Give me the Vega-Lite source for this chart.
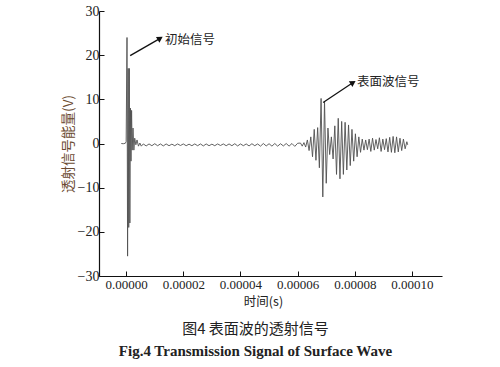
{
  "$schema": "https://vega.github.io/schema/vega-lite/v6.json",
  "autosize": {"type": "none"},
  "width": 343,
  "height": 265,
  "padding": {"left": 99, "top": 11, "right": 58, "bottom": 91},
  "background": "white",
  "config": {"view": {"stroke": null}},
  "title": {
    "text": "图4 表面波的透射信号",
    "subtitle": "Fig.4 Transmission Signal of Surface Wave",
    "orient": "bottom",
    "anchor": "middle",
    "frame": "group",
    "offset": 14,
    "dx": -15,
    "font": "Noto Sans CJK SC",
    "fontSize": 15,
    "fontWeight": "normal",
    "color": "#222222",
    "subtitleFont": "Liberation Serif",
    "subtitleFontSize": 15,
    "subtitleFontWeight": "bold",
    "subtitleColor": "#222222",
    "subtitlePadding": 7
  },
  "datasets": {
    "signal": [
      {"t": -1.7e-6, "v": 0},
      {"t": -1.0e-6, "v": -0.05},
      {"t": -3e-7, "v": 0.05},
      {"t": 0, "v": 0.4},
      {"t": 3e-7, "v": 24},
      {"t": 5e-7, "v": -25.5},
      {"t": 7e-7, "v": 17},
      {"t": 9e-7, "v": -19},
      {"t": 1.1e-6, "v": 17},
      {"t": 1.3e-6, "v": -18},
      {"t": 1.5e-6, "v": 8},
      {"t": 1.7e-6, "v": -4},
      {"t": 1.9e-6, "v": 7.5},
      {"t": 2.1e-6, "v": -1.5},
      {"t": 2.4e-6, "v": 3.5},
      {"t": 2.7e-6, "v": -1.5},
      {"t": 3.0e-6, "v": 1.2},
      {"t": 3.4e-6, "v": -0.3},
      {"t": 3.8e-6, "v": 0.8},
      {"t": 4.3e-6, "v": -0.6},
      {"t": 4.8e-6, "v": 0.1},
      {"t": 5.3e-6, "v": -0.6},
      {"t": 6e-6, "v": -0.1},
      {"t": 7e-6, "v": -0.55},
      {"t": 8e-6, "v": -0.1},
      {"t": 9e-6, "v": -0.5},
      {"t": 1.0e-5, "v": -0.05},
      {"t": 1.1e-5, "v": -0.5},
      {"t": 1.2e-5, "v": -0.1},
      {"t": 1.3e-5, "v": -0.55},
      {"t": 1.4e-5, "v": -0.1},
      {"t": 1.5e-5, "v": -0.5},
      {"t": 1.6e-5, "v": -0.15},
      {"t": 1.7e-5, "v": -0.5},
      {"t": 1.8e-5, "v": -0.1},
      {"t": 1.9e-5, "v": -0.45},
      {"t": 2.0e-5, "v": -0.1},
      {"t": 2.1e-5, "v": -0.5},
      {"t": 2.2e-5, "v": -0.15},
      {"t": 2.3e-5, "v": -0.5},
      {"t": 2.4e-5, "v": -0.1},
      {"t": 2.5e-5, "v": -0.5},
      {"t": 2.6e-5, "v": -0.1},
      {"t": 2.7e-5, "v": -0.55},
      {"t": 2.8e-5, "v": -0.1},
      {"t": 2.9e-5, "v": -0.5},
      {"t": 3.0e-5, "v": -0.15},
      {"t": 3.1e-5, "v": -0.5},
      {"t": 3.2e-5, "v": -0.1},
      {"t": 3.3e-5, "v": -0.45},
      {"t": 3.4e-5, "v": -0.1},
      {"t": 3.5e-5, "v": -0.5},
      {"t": 3.6e-5, "v": -0.1},
      {"t": 3.7e-5, "v": -0.5},
      {"t": 3.8e-5, "v": -0.05},
      {"t": 3.9e-5, "v": -0.55},
      {"t": 4.0e-5, "v": -0.1},
      {"t": 4.1e-5, "v": -0.5},
      {"t": 4.2e-5, "v": -0.1},
      {"t": 4.3e-5, "v": -0.55},
      {"t": 4.4e-5, "v": -0.05},
      {"t": 4.5e-5, "v": -0.5},
      {"t": 4.6e-5, "v": -0.1},
      {"t": 4.7e-5, "v": -0.6},
      {"t": 4.8e-5, "v": 0.0},
      {"t": 4.9e-5, "v": -0.55},
      {"t": 5.0e-5, "v": -0.05},
      {"t": 5.1e-5, "v": -0.6},
      {"t": 5.2e-5, "v": 0.0},
      {"t": 5.3e-5, "v": -0.6},
      {"t": 5.4e-5, "v": -0.05},
      {"t": 5.5e-5, "v": -0.55},
      {"t": 5.6e-5, "v": 0.0},
      {"t": 5.7e-5, "v": -0.6},
      {"t": 5.8e-5, "v": 0.0},
      {"t": 5.9e-5, "v": -0.65},
      {"t": 6.0e-5, "v": 0.05},
      {"t": 6.1e-5, "v": 0.1},
      {"t": 6.16e-5, "v": -0.6},
      {"t": 6.22e-5, "v": 0.2},
      {"t": 6.28e-5, "v": -0.8},
      {"t": 6.34e-5, "v": 0.8},
      {"t": 6.4e-5, "v": -1.6},
      {"t": 6.46e-5, "v": 1.5},
      {"t": 6.52e-5, "v": -3.0},
      {"t": 6.58e-5, "v": 3.2},
      {"t": 6.64e-5, "v": -3.8},
      {"t": 6.7e-5, "v": 3.6},
      {"t": 6.76e-5, "v": -5.5},
      {"t": 6.82e-5, "v": 10.2},
      {"t": 6.88e-5, "v": -12.1},
      {"t": 6.94e-5, "v": 9.6},
      {"t": 7.0e-5, "v": -9.0},
      {"t": 7.06e-5, "v": 3.5},
      {"t": 7.12e-5, "v": -2.5},
      {"t": 7.18e-5, "v": 1.5},
      {"t": 7.24e-5, "v": -3.5},
      {"t": 7.3e-5, "v": 4.0},
      {"t": 7.36e-5, "v": -7.0},
      {"t": 7.42e-5, "v": 5.7},
      {"t": 7.48e-5, "v": -8.0},
      {"t": 7.54e-5, "v": 5.0},
      {"t": 7.6e-5, "v": -7.0},
      {"t": 7.66e-5, "v": 4.8},
      {"t": 7.72e-5, "v": -6.0},
      {"t": 7.78e-5, "v": 4.2},
      {"t": 7.84e-5, "v": -5.0},
      {"t": 7.9e-5, "v": 3.2},
      {"t": 7.96e-5, "v": -4.0},
      {"t": 8.02e-5, "v": 2.2},
      {"t": 8.08e-5, "v": -3.0},
      {"t": 8.14e-5, "v": 1.5},
      {"t": 8.2e-5, "v": -2.0},
      {"t": 8.26e-5, "v": 1.0},
      {"t": 8.32e-5, "v": -1.5},
      {"t": 8.38e-5, "v": 0.8},
      {"t": 8.44e-5, "v": -1.4},
      {"t": 8.5e-5, "v": 1.0},
      {"t": 8.56e-5, "v": -1.8},
      {"t": 8.62e-5, "v": 1.2},
      {"t": 8.68e-5, "v": -1.5},
      {"t": 8.74e-5, "v": 0.9},
      {"t": 8.8e-5, "v": -1.2},
      {"t": 8.86e-5, "v": 1.3},
      {"t": 8.92e-5, "v": -1.8},
      {"t": 8.98e-5, "v": 1.0},
      {"t": 9.04e-5, "v": -1.4},
      {"t": 9.1e-5, "v": 1.1},
      {"t": 9.16e-5, "v": -1.9},
      {"t": 9.22e-5, "v": 1.4},
      {"t": 9.28e-5, "v": -2.0},
      {"t": 9.34e-5, "v": 1.6},
      {"t": 9.4e-5, "v": -2.1},
      {"t": 9.46e-5, "v": 1.5},
      {"t": 9.52e-5, "v": -1.9},
      {"t": 9.58e-5, "v": 1.2},
      {"t": 9.64e-5, "v": -1.6},
      {"t": 9.7e-5, "v": 1.0},
      {"t": 9.76e-5, "v": -1.2},
      {"t": 9.82e-5, "v": 0.4},
      {"t": 9.85e-5, "v": -0.3}
    ],
    "arrows": [
      {"x1": 1.4e-6, "y1": 19.9, "x2": 1.19e-5, "y2": 23.8},
      {"x1": 6.89e-5, "y1": 9.3, "x2": 7.94e-5, "y2": 13.8}
    ],
    "notes": [
      {"t": 1.36e-5, "v": 23.5, "text": "初始信号"},
      {"t": 8.08e-5, "v": 14.0, "text": "表面波信号"}
    ]
  },
  "layer": [
    {
      "data": {"name": "signal"},
      "mark": {"type": "line", "color": "#505050", "strokeWidth": 0.9, "clip": true},
      "encoding": {
        "x": {
          "field": "t", "type": "quantitative",
          "scale": {"domain": [-0.0000095, 0.0001105], "nice": false, "zero": false},
          "axis": {
            "title": "时间(s)",
            "values": [0, 0.00001, 0.00002, 0.00003, 0.00004, 0.00005, 0.00006, 0.00007, 0.00008, 0.00009, 0.0001],
            "format": ".5f",
            "labelExpr": "round(datum.value*1e5) % 2 === 0 ? datum.label : ''",
            "grid": false,
            "domainColor": "#111111",
            "domainWidth": 1.2,
            "tickColor": "#111111",
            "tickWidth": 1,
            "tickSize": {"condition": {"test": "round(datum.value*1e5) % 2 !== 0", "value": -3}, "value": -5},
            "labelFont": "Liberation Serif",
            "labelFontSize": 13,
            "labelColor": "#222222",
            "labelPadding": 7,
            "labelFlush": false,
            "labelOverlap": false,
            "titleFont": "Noto Sans CJK SC",
            "titleFontSize": 12.5,
            "titleFontWeight": "normal",
            "titleColor": "#222222",
            "titlePadding": 4,
            "titleX": 164
          }
        },
        "y": {
          "field": "v", "type": "quantitative",
          "scale": {"domain": [-30, 30], "nice": false},
          "axis": {
            "title": "透射信号能量(V)",
            "values": [-30, -25, -20, -15, -10, -5, 0, 5, 10, 15, 20, 25, 30],
            "labelExpr": "datum.value % 10 === 0 ? datum.label : ''",
            "grid": false,
            "domainColor": "#111111",
            "domainWidth": 1.2,
            "tickColor": "#111111",
            "tickWidth": 1,
            "tickSize": {"condition": {"test": "datum.value % 10 !== 0", "value": -3}, "value": -5},
            "labelFont": "Liberation Serif",
            "labelFontSize": 14,
            "labelColor": "#222222",
            "labelPadding": 5,
            "labelFlush": false,
            "labelOverlap": false,
            "titleFont": "Noto Sans CJK SC",
            "titleFontSize": 13.5,
            "titleFontWeight": "normal",
            "titleColor": "#6b4a30",
            "titlePadding": 2
          }
        }
      }
    },
    {
      "data": {"name": "arrows"},
      "mark": {"type": "rule", "color": "#111111", "strokeWidth": 1.3},
      "encoding": {
        "x": {"field": "x1", "type": "quantitative"},
        "y": {"field": "y1", "type": "quantitative"},
        "x2": {"field": "x2"},
        "y2": {"field": "y2"}
      }
    },
    {
      "data": {"name": "arrows"},
      "mark": {"type": "point", "shape": "triangle-right", "filled": true, "color": "#111111", "size": 45, "angle": 328, "opacity": 1},
      "encoding": {
        "x": {"field": "x2", "type": "quantitative"},
        "y": {"field": "y2", "type": "quantitative"}
      }
    },
    {
      "data": {"name": "notes"},
      "mark": {"type": "text", "align": "left", "baseline": "middle", "font": "Noto Sans CJK SC", "fontSize": 12.5, "color": "#222222"},
      "encoding": {
        "x": {"field": "t", "type": "quantitative"},
        "y": {"field": "v", "type": "quantitative"},
        "text": {"field": "text"}
      }
    }
  ]
}
